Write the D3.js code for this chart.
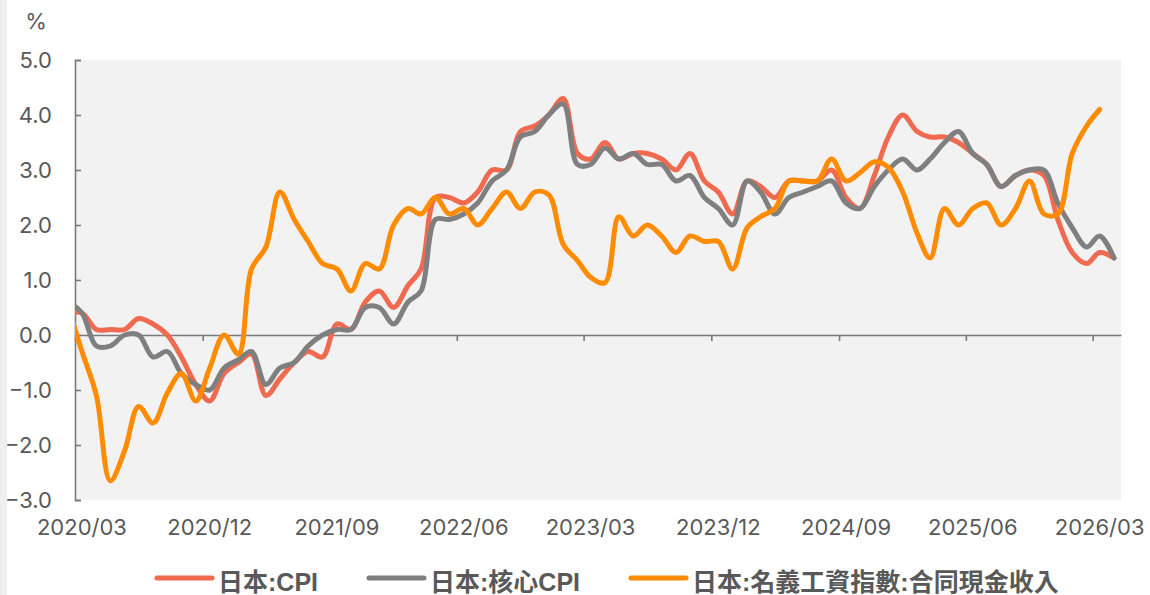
<!DOCTYPE html>
<html>
<head>
<meta charset="utf-8">
<script src="https://cdn.jsdelivr.net/npm/d3@7"></script>
<style>
  html, body { margin: 0; padding: 0; background: #ffffff; }
  svg { display: block; }
</style>
</head>
<body>
<svg id="chart" width="1150" height="595"></svg>
<script>
// ---------------- DATA ----------------
const months = [
  "2020/02","2020/03","2020/04","2020/05","2020/06","2020/07","2020/08","2020/09","2020/10","2020/11","2020/12",
  "2021/01","2021/02","2021/03","2021/04","2021/05","2021/06","2021/07","2021/08","2021/09","2021/10","2021/11","2021/12",
  "2022/01","2022/02","2022/03","2022/04","2022/05","2022/06","2022/07","2022/08","2022/09","2022/10","2022/11","2022/12",
  "2023/01","2023/02","2023/03","2023/04","2023/05","2023/06","2023/07","2023/08","2023/09","2023/10","2023/11","2023/12",
  "2024/01","2024/02","2024/03","2024/04","2024/05","2024/06","2024/07","2024/08","2024/09","2024/10","2024/11","2024/12",
  "2025/01","2025/02","2025/03","2025/04","2025/05","2025/06","2025/07","2025/08","2025/09","2025/10","2025/11","2025/12",
  "2026/01","2026/02","2026/03","2026/04"
];

const cpi = [
  0.4, 0.4, 0.1, 0.1, 0.1, 0.3, 0.2, 0.0, -0.4, -0.9, -1.2,
  -0.7, -0.5, -0.35, -1.1, -0.8, -0.5, -0.3, -0.4, 0.2, 0.1, 0.6, 0.8,
  0.5, 0.9, 1.2, 2.5, 2.5, 2.4, 2.6, 3.0, 3.0, 3.7, 3.8, 4.0,
  4.3, 3.3, 3.2, 3.5, 3.2, 3.3, 3.3, 3.2, 3.0, 3.3, 2.8, 2.6,
  2.2, 2.8, 2.7, 2.5, 2.8, 2.8, 2.8, 3.0, 2.5, 2.3, 2.9, 3.6,
  4.0, 3.7, 3.6, 3.6, 3.5, 3.3, 3.1, 2.7, 2.9, 3.0, 2.9, 2.1,
  1.5, 1.3, 1.5, 1.4
];

const coreCpi = [
  0.6, 0.4, -0.2, -0.2, 0.0, 0.0, -0.4, -0.3, -0.7, -0.9, -1.0,
  -0.6, -0.45, -0.3, -0.9, -0.6, -0.5, -0.2, 0.0, 0.1, 0.1, 0.5, 0.5,
  0.2, 0.6, 0.8, 2.1, 2.1, 2.2, 2.4, 2.8, 3.0, 3.6, 3.7, 4.0,
  4.2, 3.1, 3.1, 3.4, 3.2, 3.3, 3.1, 3.1, 2.8, 2.9, 2.5, 2.3,
  2.0, 2.8, 2.6, 2.2, 2.5, 2.6, 2.7, 2.8, 2.4, 2.3, 2.7, 3.0,
  3.2, 3.0, 3.2, 3.5, 3.7, 3.3, 3.1, 2.7, 2.9, 3.0, 3.0, 2.4,
  1.95, 1.6, 1.8, 1.4
];

const wages = [
  0.5, -0.3, -1.1, -2.65, -2.1, -1.3, -1.6, -1.05, -0.7, -1.2, -0.6,
  0.0, -0.35, 1.2, 1.6, 2.6, 2.1, 1.7, 1.3, 1.2, 0.8, 1.3, 1.2,
  2.0, 2.3, 2.2, 2.5, 2.2, 2.3, 2.0, 2.3, 2.6, 2.3, 2.6, 2.55,
  1.65, 1.35, 1.05, 0.95, 2.15, 1.8, 2.0, 1.8, 1.5, 1.8, 1.7, 1.7,
  1.2, 1.95, 2.15, 2.3, 2.8, 2.8, 2.8, 3.2, 2.8, 2.95, 3.15, 3.05,
  2.6, 1.85, 1.4, 2.3, 2.0, 2.3, 2.4, 2.0, 2.3, 2.8, 2.2, 2.2,
  3.3, 3.8, 4.1, null
];

const seriesNames = ["日本:CPI", "日本:核心CPI", "日本:名義工資指數:合同現金收入"];
const seriesColors = ["#EF6A4F", "#7F7F7F", "#FF8C00"];

const xTickLabels = ["2020/03","2020/12","2021/09","2022/06","2023/03","2023/12","2024/09","2025/06","2026/03"];
const yTicks = [5, 4, 3, 2, 1, 0, -1, -2, -3];
const yUnit = "%";
const xDomain = ["2020/03", "2026/05"];

// ---------------- LAYOUT ----------------
const svg = d3.select("#chart");
const plot = { left: 75, right: 1121, top: 60, bottom: 500 };
const parseMonth = d3.timeParse("%Y/%m");
const midMonth = s => { const d = parseMonth(s); return new Date(d.getFullYear(), d.getMonth(), 16); };

const x = d3.scaleTime()
  .domain(xDomain.map(parseMonth))
  .range([plot.left, plot.right]);
const y = d3.scaleLinear().domain([-3, 5]).range([plot.bottom, plot.top]);

const axisColor = "#7A7A7A";
const textColor = "#595959";
const numFont = "Inter, 'Liberation Sans', Arial, sans-serif";

// left page strip
svg.append("rect").attr("x", 0).attr("y", 0).attr("width", 7).attr("height", 595).attr("fill", "#EFEFEF");

// plot background
svg.append("rect")
  .attr("x", plot.left).attr("y", plot.top)
  .attr("width", plot.right - plot.left).attr("height", plot.bottom - plot.top)
  .attr("fill", "#F2F2F2");

// unit label
svg.append("text").attr("x", 36).attr("y", 21)
  .attr("text-anchor", "middle").attr("dominant-baseline", "central")
  .attr("font-family", numFont).attr("font-size", 22).attr("fill", textColor)
  .text(yUnit);

// Y axis
const yAxis = svg.append("g")
  .attr("transform", `translate(${plot.left},0)`)
  .call(d3.axisRight(y).tickValues(yTicks).tickSize(6).tickFormat(""));
yAxis.select(".domain").attr("stroke", axisColor).attr("stroke-width", 1.6);
yAxis.selectAll(".tick line").attr("stroke", axisColor).attr("stroke-width", 1.6);

svg.append("g").selectAll("text").data(yTicks).join("text")
  .attr("x", 52).attr("y", d => y(d))
  .attr("text-anchor", "end").attr("dominant-baseline", "central")
  .attr("font-family", numFont).attr("font-size", 22).attr("fill", textColor)
  .text(d => d3.format(".1f")(d));

// X axis on the zero line: ticks at month starts, labels at month middles
const xAxis = svg.append("g")
  .attr("transform", `translate(0,${y(0)})`)
  .call(d3.axisBottom(x).tickValues(xTickLabels.map(parseMonth)).tickSize(6).tickSizeOuter(0).tickFormat(""));
xAxis.select(".domain").attr("stroke", axisColor).attr("stroke-width", 1.6);
xAxis.selectAll(".tick line").attr("stroke", axisColor).attr("stroke-width", 1.6);

svg.append("g").selectAll("text").data(xTickLabels).join("text")
  .attr("x", d => x(midMonth(d))).attr("y", 527)
  .attr("text-anchor", "middle").attr("dominant-baseline", "central")
  .attr("font-family", numFont).attr("font-size", 22).attr("fill", textColor)
  .text(d => d);

// clip
svg.append("defs").append("clipPath").attr("id", "plotClip")
  .append("rect").attr("x", plot.left).attr("y", plot.top - 10)
  .attr("width", plot.right - plot.left).attr("height", plot.bottom - plot.top + 20);

const line = d3.line()
  .defined(d => d.v !== null)
  .x(d => x(midMonth(d.m)))
  .y(d => y(d.v))
  .curve(d3.curveCatmullRom.alpha(0.5));

const allSeries = [cpi, coreCpi, wages];
const gLines = svg.append("g").attr("clip-path", "url(#plotClip)");
[0, 1, 2].forEach(i => {
  const data = months.map((m, k) => ({ m, v: allSeries[i][k] }));
  gLines.append("path")
    .datum(data)
    .attr("d", line)
    .attr("fill", "none")
    .attr("stroke", seriesColors[i])
    .attr("stroke-width", 5)
    .attr("stroke-linecap", "round")
    .attr("stroke-linejoin", "round");
});

// legend
const legendFont = "'Liberation Sans', 'Noto Sans CJK TC', 'Noto Sans CJK JP', Arial, sans-serif";
let lx = 157;
const ly = 578;
seriesNames.forEach((name, i) => {
  const g = svg.append("g");
  g.append("line")
    .attr("x1", lx).attr("x2", lx + 55).attr("y1", ly).attr("y2", ly)
    .attr("stroke", seriesColors[i]).attr("stroke-width", 5).attr("stroke-linecap", "round");
  const t = g.append("text")
    .attr("x", lx + 61).attr("y", ly + 4)
    .attr("dominant-baseline", "central")
    .attr("font-family", legendFont).attr("font-weight", "bold")
    .attr("font-size", 25).attr("fill", textColor)
    .text(name);
  lx = lx + 61 + t.node().getComputedTextLength() + 51;
});
</script>
</body>
</html>
